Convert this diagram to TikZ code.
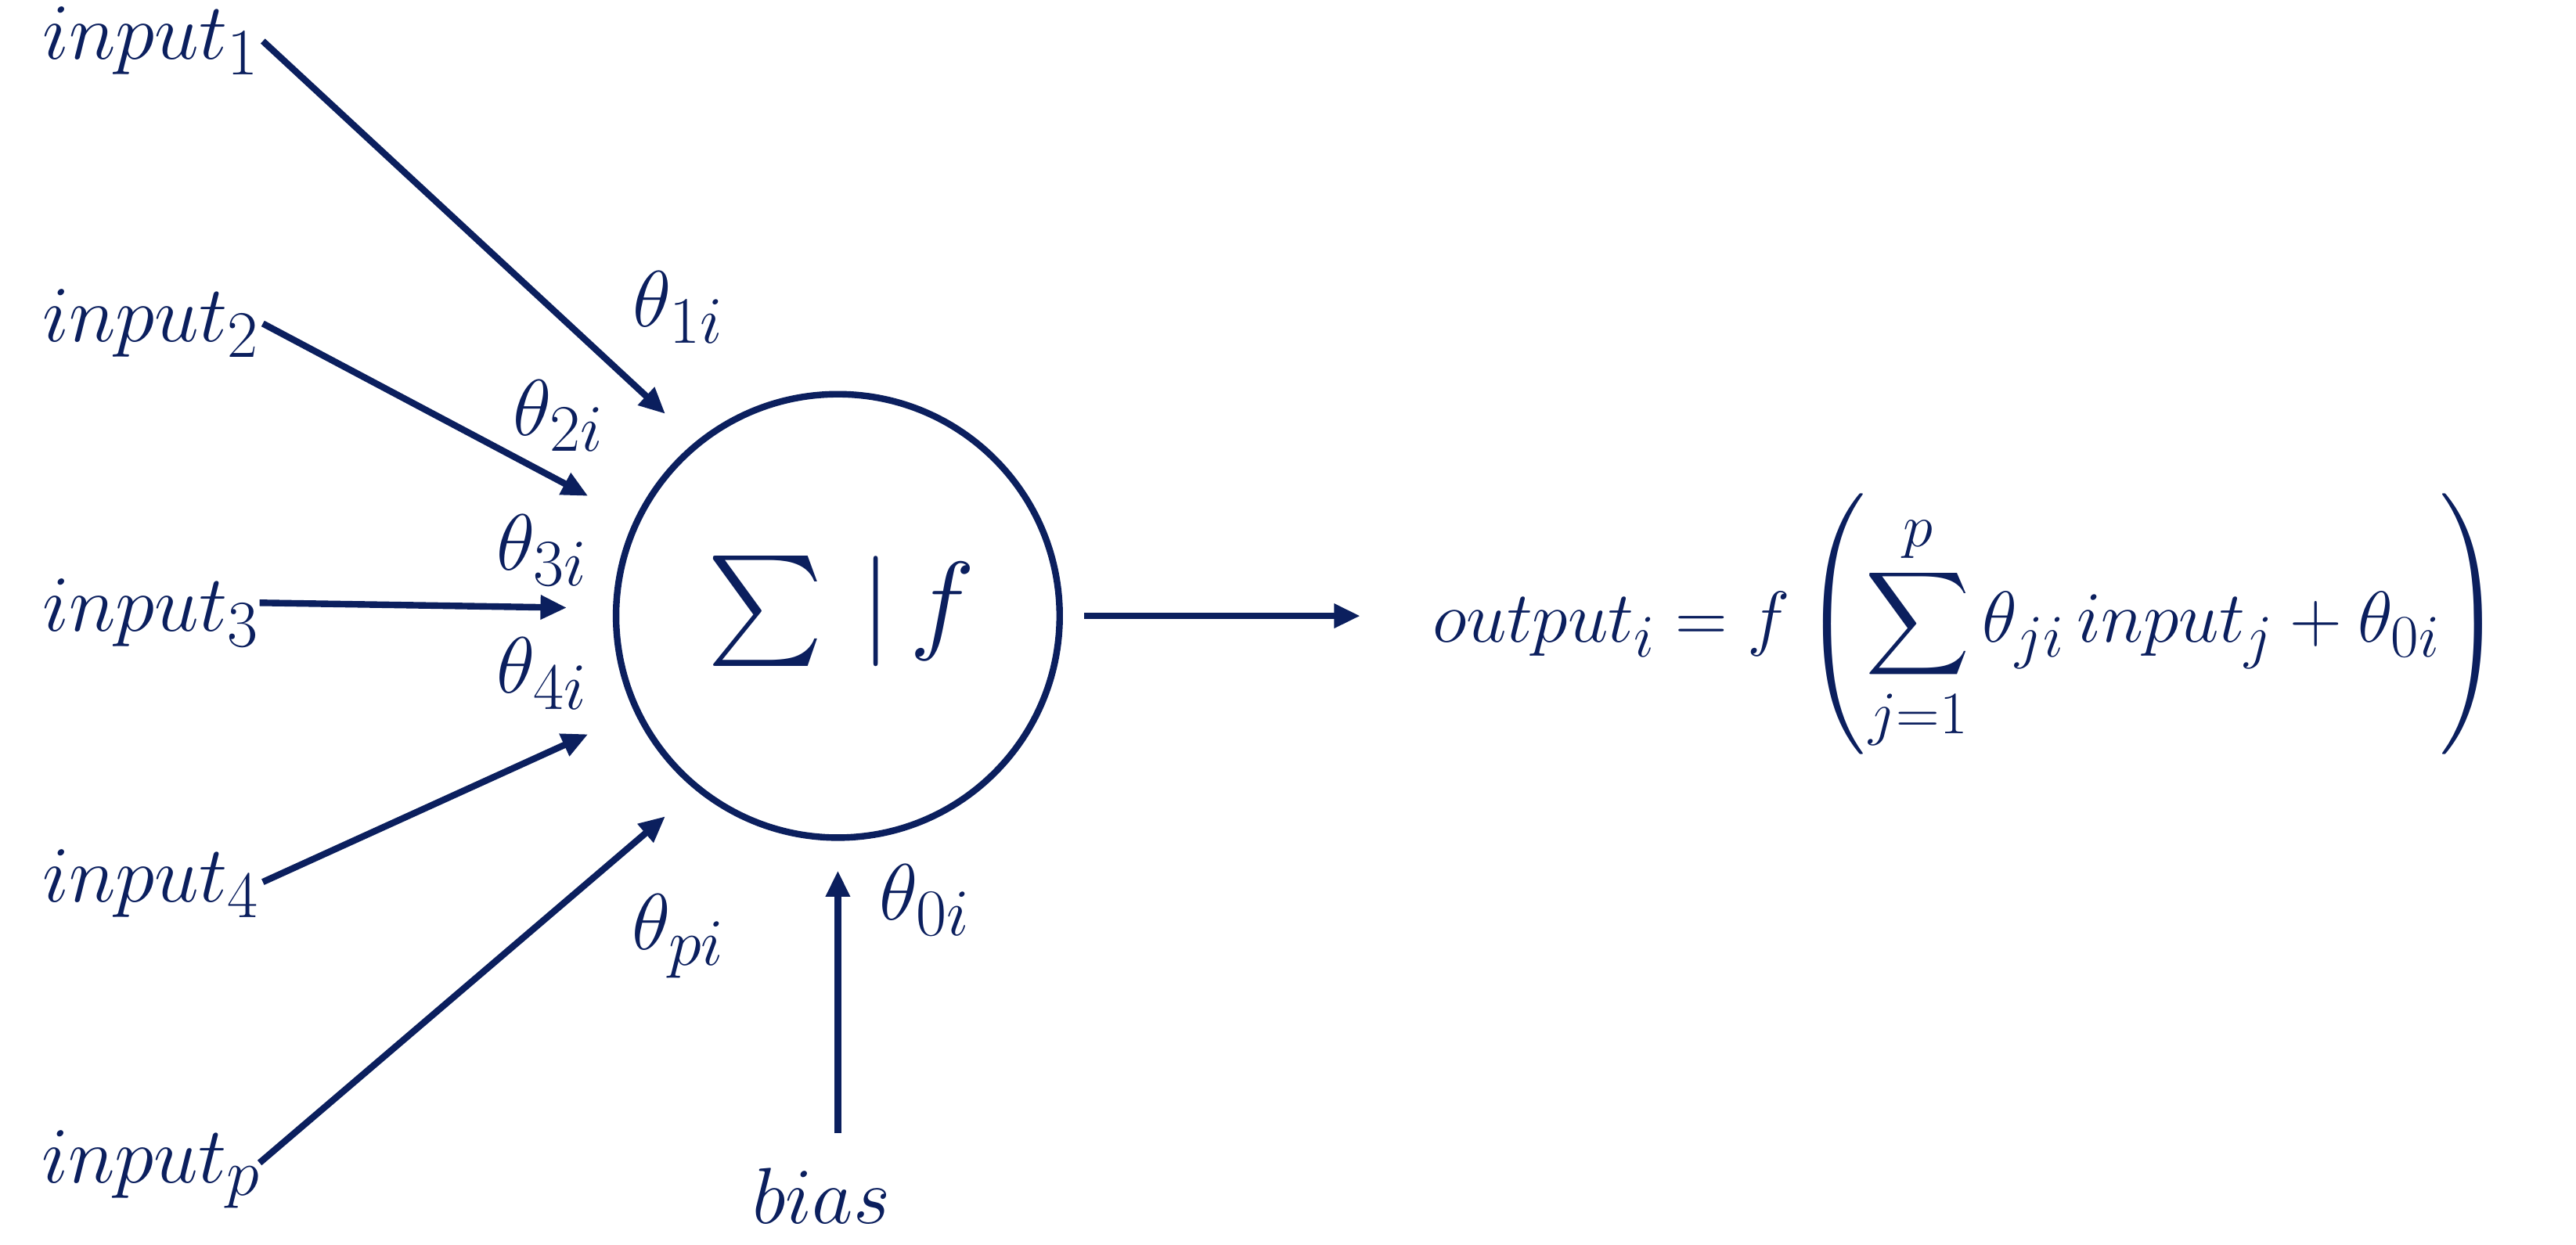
\documentclass[tikz,border=0pt]{standalone}
\usepackage{amsmath}
\usetikzlibrary{arrows.meta}
\definecolor{navy}{HTML}{0B1F5E}
\newcommand{\lbx}[1]{\scalebox{1.95}{\Huge$#1$}}
\begin{document}
\begin{tikzpicture}[x=1pt,y=-1pt,
  lab/.style={text=navy,inner sep=0pt},
  arr/.style={draw=navy,line width=4pt,-{Triangle[length=16pt,width=14pt]}}]
\useasboundingbox (0,0) rectangle (1568,758);
\node[draw=navy,line width=4pt,circle,minimum size=270pt] (n) at (510,375) {};
\node[text=navy] (s) at (512,372) {\scalebox{2.7}{\Huge$\sum\,|\,f$}};
\node[lab] (i1) at (92,25) {\lbx{input_1}};
\node[lab] (i2) at (92,197) {\lbx{input_2}};
\node[lab] (i3) at (92,373) {\lbx{input_3}};
\node[lab] (i4) at (92,538) {\lbx{input_4}};
\node[lab] (ip) at (92,712) {\lbx{input_p}};
\node[lab] (b) at (500,728) {\lbx{bias}};
\coordinate (a1s) at (160,25); \coordinate (a1e) at (405,252);
\coordinate (a2s) at (160,197); \coordinate (a2e) at (358,302);
\coordinate (a3s) at (158,367); \coordinate (a3e) at (345,370);
\coordinate (a4s) at (160,537); \coordinate (a4e) at (358,447);
\coordinate (aps) at (158,708); \coordinate (ape) at (405,497);
\coordinate (bs) at (510,690); \coordinate (be) at (510,530);
\coordinate (os) at (660,375); \coordinate (oe) at (828,375);
\draw[arr] (a1s) -- (a1e);
\draw[arr] (a2s) -- (a2e);
\draw[arr] (a3s) -- (a3e);
\draw[arr] (a4s) -- (a4e);
\draw[arr] (aps) -- (ape);
\draw[arr] (bs) -- (be);
\draw[arr] (os) -- (oe);
\node[lab] (t1) at (413,187) {\lbx{\theta_{1i}}};
\node[lab] (t2) at (340,253) {\lbx{\theta_{2i}}};
\node[lab] (t3) at (330,335) {\lbx{\theta_{3i}}};
\node[lab] (t4) at (330,410) {\lbx{\theta_{4i}}};
\node[lab] (tp) at (413,570) {\lbx{\theta_{pi}}};
\node[lab] (t0) at (563,548) {\lbx{\theta_{0i}}};
\node[text=navy] (eq) at (1198,380) {\scalebox{1.77}{\Huge$output_i = f\left(\displaystyle\sum_{j=1}^{p}\theta_{ji}\,input_j+\theta_{0i}\right)$}};
\end{tikzpicture}
\end{document}
